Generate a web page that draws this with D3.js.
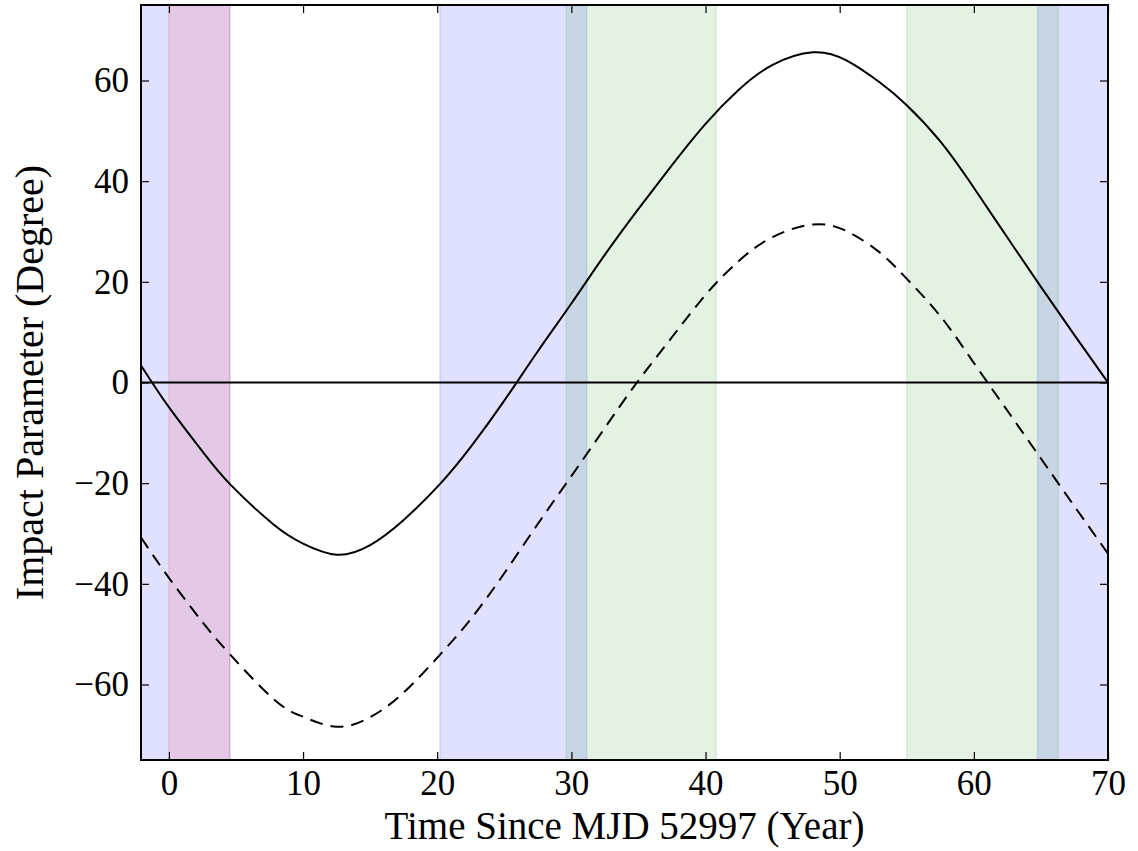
<!DOCTYPE html>
<html>
<head>
<meta charset="utf-8">
<script src="https://cdn.jsdelivr.net/npm/d3@7"></script>
<style>
  body { margin: 0; background: #fff; }
  svg { display: block; }
  .tick-label, .axis-title { font-family: "Liberation Serif", "DejaVu Serif", serif; fill: #000; }
</style>
</head>
<body>
<svg></svg>
<script>
//Data
const years = [-2.08, 0, 2.5, 4.55, 7.8, 10, 12.5, 15, 17.5, 20.2, 22.5, 25, 27.5, 30, 32.5, 35, 37.5, 40, 42.5, 45, 48, 50.5, 53, 55, 57.5, 60, 62.5, 65, 67.5, 70];
const solidValues = [3.4, -4.9, -13.7, -20.2, -28.2, -32.0, -34.2, -32.3, -27.3, -20.2, -12.8, -3.6, 6.2, 15.7, 25.4, 34.5, 43.2, 51.4, 58.2, 63.1, 65.6, 64.0, 59.6, 55.1, 47.9, 38.7, 28.8, 19.0, 9.4, 0];
const dashedValues = [-30.8, -38.8, -47.6, -54.0, -62.9, -66.4, -68.4, -66.5, -61.6, -54.1, -47.0, -37.9, -28.1, -18.6, -9.0, 0.4, 9.0, 17.4, 24.2, 28.9, 31.4, 30.1, 25.8, 20.6, 13.2, 3.9, -5.6, -15.1, -24.6, -34.0];

//Shaded spans [start, end] in years
const blueSpans = [[-2.08, 4.55], [20.2, 31.15], [64.75, 70]];
const greenSpans = [[29.6, 40.8], [55.0, 66.3]];
const redSpans = [[0, 4.55]];

const xTicks = [0, 10, 20, 30, 40, 50, 60, 70];
const yTicks = [-60, -40, -20, 0, 20, 40, 60];

const w = 1138;
const h = 851;
const margin = { left: 141, right: 30, top: 5, bottom: 91 };

//Scale Setup
const xScale = d3.scaleLinear()
                 .domain([-2.08, 70])
                 .range([margin.left, w - margin.right]);
const yScale = d3.scaleLinear()
                 .domain([-75, 75])
                 .range([h - margin.bottom, margin.top]);

const chart = d3.select("svg")
                .attr("width", w)
                .attr("height", h);

chart.append("clipPath")
     .attr("id", "plot-clip")
     .append("rect")
     .attr("x", margin.left)
     .attr("y", margin.top)
     .attr("width", xScale.range()[1] - margin.left)
     .attr("height", yScale.range()[0] - margin.top);

//Spans
function drawSpans(spans, color, alpha){
  chart.append("g")
       .selectAll("rect")
       .data(spans)
       .enter()
       .append("rect")
       .attr("x", (d) => xScale(d[0]))
       .attr("y", margin.top)
       .attr("width", (d) => xScale(d[1]) - xScale(d[0]))
       .attr("height", yScale.range()[0] - margin.top)
       .attr("fill", color)
       .attr("fill-opacity", alpha)
       .attr("stroke", color)
       .attr("stroke-opacity", alpha)
       .attr("stroke-width", 1.5);
}
drawSpans(blueSpans, "#0000ff", 0.12);
drawSpans(greenSpans, "#008000", 0.105);
drawSpans(redSpans, "#ff0000", 0.1);

//Zero line
chart.append("line")
     .attr("x1", xScale.range()[0])
     .attr("x2", xScale.range()[1])
     .attr("y1", yScale(0))
     .attr("y2", yScale(0))
     .attr("stroke", "#000")
     .attr("stroke-width", 2);

//Curves
const line = d3.line()
               .x((d, i) => xScale(years[i]))
               .y((d) => yScale(d))
               .curve(d3.curveNatural);

const curves = chart.append("g").attr("clip-path", "url(#plot-clip)");
curves.append("path")
      .attr("d", line(solidValues))
      .attr("fill", "none")
      .attr("stroke", "#000")
      .attr("stroke-width", 2);
curves.append("path")
      .attr("d", line(dashedValues))
      .attr("fill", "none")
      .attr("stroke", "#000")
      .attr("stroke-width", 2)
      .attr("stroke-dasharray", "13,8");

//Axes (ticks inside, on all four sides)
const tickLen = 8;
const x0 = xScale.range()[0], x1 = xScale.range()[1];
const y0 = yScale.range()[0], y1 = yScale.range()[1];

chart.append("g").attr("transform", `translate(0, ${y0})`)
     .call(d3.axisBottom(xScale).tickValues(xTicks).tickSizeInner(-tickLen).tickSizeOuter(0).tickPadding(10))
     .call((g) => g.select(".domain").remove())
     .call((g) => g.selectAll("text").attr("class", "tick-label").style("font-size", "35px").attr("fill", "#000"));
chart.append("g").attr("transform", `translate(0, ${y1})`)
     .call(d3.axisTop(xScale).tickValues(xTicks).tickSizeInner(-tickLen).tickSizeOuter(0).tickFormat(""))
     .call((g) => g.select(".domain").remove());
chart.append("g").attr("transform", `translate(${x0}, 0)`)
     .call(d3.axisLeft(yScale).tickValues(yTicks).tickSizeInner(-tickLen).tickSizeOuter(0).tickPadding(12)
             .tickFormat((d) => d < 0 ? "\u2212" + Math.abs(d) : d))
     .call((g) => g.select(".domain").remove())
     .call((g) => g.selectAll("text").attr("class", "tick-label").style("font-size", "35px").attr("fill", "#000"));
chart.append("g").attr("transform", `translate(${x1}, 0)`)
     .call(d3.axisRight(yScale).tickValues(yTicks).tickSizeInner(-tickLen).tickSizeOuter(0).tickFormat(""))
     .call((g) => g.select(".domain").remove());

chart.selectAll(".tick line").attr("stroke", "#000").attr("stroke-width", 1.2);
chart.selectAll(".tick text").attr("font-family", null);

//Frame
chart.append("rect")
     .attr("x", x0)
     .attr("y", y1)
     .attr("width", x1 - x0)
     .attr("height", y0 - y1)
     .attr("fill", "none")
     .attr("stroke", "#000")
     .attr("stroke-width", 2);

//Labels
chart.append("text")
     .attr("class", "axis-title")
     .attr("x", (x0 + x1) / 2)
     .attr("y", 839)
     .attr("text-anchor", "middle")
     .style("font-size", "39px")
     .text("Time Since MJD 52997 (Year)");

chart.append("text")
     .attr("class", "axis-title")
     .attr("transform", `translate(43, ${(y0 + y1) / 2}) rotate(-90)`)
     .attr("text-anchor", "middle")
     .style("font-size", "40px")
     .text("Impact Parameter (Degree)");
</script>
</body>
</html>
